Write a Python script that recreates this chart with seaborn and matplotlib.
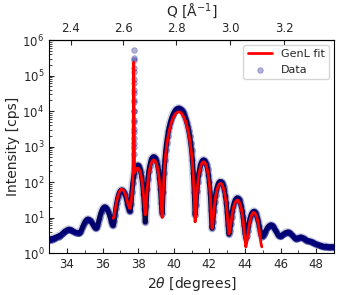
import numpy as np
import pandas as pd
import matplotlib
matplotlib.use('Agg')
import matplotlib.pyplot as plt
import seaborn as sns
from matplotlib.ticker import MultipleLocator, LogLocator, NullFormatter

# measured intensity (cps), scan 33.00 -> 49.00 deg, step 0.05
data_cps = [
    2.4, 2.3, 2.5, 2.4, 2.6, 2.5, 2.7, 2.6, 2.8, 2.9, 3.0, 2.9, 3.1, 3.3, 3.4, 3.6, 3.8, 4.0, 4.2, 4.3,
    4.5, 4.6, 4.7, 4.6, 4.5, 4.5, 4.3, 4.1, 4.0, 3.9, 3.8, 3.8, 3.7, 3.7, 3.7, 3.9, 4.3, 5.0, 5.7, 6.6,
    7.4, 8.1, 8.6, 8.9, 9.0, 8.8, 8.4, 7.9, 7.2, 6.5, 5.8, 5.4, 5.1, 5.0, 5.4, 6.6, 8.4, 10.7, 13.1, 15.5,
    17.5, 19.0, 19.9, 19.9, 19.2, 17.8, 15.8, 13.6, 11.3, 9.1, 7.4, 6.3, 6.0, 7.8, 12.2, 18.6, 26.6, 35.2, 43.5, 50.8,
    56.3, 59.5, 59.9, 57.7, 53.2, 46.9, 39.4, 31.8, 24.8, 19.3, 15.8, 15.0, 24, 52, 94, 145, 197, 244, 279, 298,
    297, 278, 241, 194, 141, 89, 46, 18, 7.5, 21.6, 62, 124, 201, 285, 367, 437, 489, 517, 517, 490,
    439, 369, 288, 204, 127, 66, 26.5, 13, 52, 183, 425, 793, 1300, 1940, 2720, 3610, 4600, 5680, 6780, 7870,
    8920, 9860, 10700, 11300, 11800, 12000, 12000, 11800, 11300, 10700, 9860, 8920, 7870, 6780, 5680, 4600, 3610, 2720, 1940, 1300,
    793, 425, 183, 52, 12, 22.8, 54.7, 104, 166, 233, 298, 354, 396, 417, 417, 395, 353, 296, 230, 162,
    99, 49, 16.6, 5, 7.6, 15.4, 27.5, 42.7, 59.2, 75.2, 88.9, 99, 104, 104, 98.8, 88.5, 74.6, 58.4, 41.8, 26.5,
    14.2, 6.2, 3.4, 4.25, 6.8, 10.7, 15.7, 21.0, 26.3, 30.7, 34.1, 35.8, 35.7, 34.0, 30.6, 26.0, 20.7, 15.3, 10.3, 6.2,
    3.6, 2.7, 3.1, 4.15, 5.8, 7.8, 9.9, 11.9, 13.6, 14.6, 15.0, 14.6, 13.6, 12.0, 10.0, 7.9, 5.9, 4.3, 3.3, 2.9,
    3.0, 3.2, 3.6, 4.0, 4.5, 5.0, 5.5, 5.8, 6.1, 6.2, 6.1, 5.9, 5.6, 5.1, 4.6, 4.1, 3.7, 3.3, 3.1, 3.0,
    3.0, 3.1, 3.2, 3.4, 3.5, 3.7, 3.8, 3.85, 3.9, 3.85, 3.75, 3.6, 3.4, 3.2, 3.0, 2.8, 2.6, 2.5, 2.55, 2.6,
    2.7, 2.75, 2.8, 2.8, 2.75, 2.7, 2.6, 2.5, 2.4, 2.3, 2.25, 2.2, 2.2, 2.15, 2.1, 2.1, 2.0, 1.95, 1.9, 1.85,
    1.8, 1.75, 1.7, 1.7, 1.65, 1.6, 1.6, 1.55, 1.55, 1.5, 1.5, 1.55, 1.5, 1.45, 1.5, 1.5, 1.45, 1.5, 1.5, 1.45,
    1.5,
]
data_tt = np.linspace(33.0, 49.0, len(data_cps))

# substrate peak, fine points
sub_tt = [37.740, 37.742, 37.744, 37.746, 37.748, 37.750, 37.752, 37.754, 37.756, 37.758, 37.760,
          37.762, 37.764, 37.766, 37.768, 37.770, 37.772, 37.774, 37.776, 37.778, 37.780]
sub_cps = [1000, 1800, 3200, 5600, 1.0e4, 1.8e4, 3.2e4, 6.3e4, 1.26e5, 2.8e5, 5.2e5,
           3.2e5, 1.6e5, 7.9e4, 4.0e4, 2.0e4, 1.0e4, 5.0e3, 2.5e3, 1.26e3, 630]

# GenL fit, 36.60 -> 44.95 deg, step 0.05
fit_cps = [
    9.5, 11.3, 15.6, 22.0, 29.9, 38.4, 46.7, 53.9,
    59.4, 62.5, 62.9, 60.7, 56.2, 49.8, 42.4, 34.8, 27.8, 22.3, 18.9, 18.0, 25.6, 48, 82, 240000, 180, 204, 233, 248,
    248, 232, 202, 164, 120, 78, 44, 20.4, 12, 23, 54.9, 104, 166, 233, 298, 354, 395, 417, 417, 395,
    354, 297, 232, 165, 103, 53, 21, 10, 40, 144, 335, 627, 1026, 1538, 2150, 2860, 3645, 4500, 5360, 6230,
    7060, 7800, 8470, 8960, 9320, 9490, 9490, 9320, 8960, 8470, 7800, 7060, 6230, 5360, 4500, 3645, 2860, 2150, 1538, 1026,
    627, 335, 144, 39, 7.6, 17.5, 46.2, 90.6, 146, 207, 265, 316, 353, 372, 372, 353, 315, 264, 205, 145,
    88.8, 44.2, 15.1, 5, 7.3, 14.1, 24.6, 37.8, 52.1, 66, 78, 86.9, 91.5, 91.4, 86.6, 77.7, 65.5, 51.4, 36.9, 23.6,
    12.9, 6.0, 3.5, 4.2, 6.3, 9.6, 13.8, 18.4, 22.9, 26.7, 29.5, 30.9, 30.8, 29.1, 26.1, 22.1, 17.4, 12.7, 8.3, 4.7,
    2.4, 1.5, 1.9, 3.0, 4.6, 6.7, 8.8, 10.9, 12.5, 13.6, 14.0, 13.6, 12.5, 10.9, 8.8, 6.7, 4.6, 3.0, 1.9, 1.5,
]
fit_tt = np.linspace(36.60, 44.95, len(fit_cps))

q_ticks = [2.4, 2.6, 2.8, 3.0, 3.2]
wavelength = 1.5406  # Cu K-alpha1

df_scan = pd.DataFrame({'tt': data_tt, 'cps': data_cps})
df = pd.DataFrame({'tt': np.concatenate([data_tt, sub_tt]),
                   'cps': np.concatenate([data_cps, sub_cps])}).sort_values('tt')
df_fit = pd.DataFrame({'tt': fit_tt, 'cps': fit_cps})

sns.set_theme(style='ticks', rc={
    'xtick.direction': 'in', 'ytick.direction': 'in',
    'axes.linewidth': 0.8, 'axes.edgecolor': 'black',
})
plt.rcParams['font.family'] = ['DejaVu Sans']

fig, ax = plt.subplots(figsize=(3.39, 2.95), dpi=100)
fig.subplots_adjust(left=0.145, right=0.985, bottom=0.142, top=0.864)

# dense data band (halo + dark core) along the scan, substrate spike only as points
ax.plot(df_scan['tt'], df_scan['cps'], color='#8a8ab8', lw=6.0, alpha=0.4, zorder=1, solid_capstyle='round')
ax.plot(df_scan['tt'], df_scan['cps'], color='#000038', lw=3.6, alpha=0.95, zorder=2, solid_capstyle='round')
sns.scatterplot(data=df, x='tt', y='cps', ax=ax, color='navy', alpha=0.3, s=16,
                edgecolor='navy', linewidth=0.6, label='Data', zorder=3)
sns.lineplot(data=df_fit, x='tt', y='cps', ax=ax, color='red', lw=2, label='GenL fit',
             sort=False, estimator=None, zorder=4)

ax.set_yscale('log')
ax.set_xlim(33, 49)
ax.set_ylim(1, 1e6)
ax.xaxis.set_major_locator(MultipleLocator(2))
ax.xaxis.set_minor_locator(MultipleLocator(1))
ax.yaxis.set_major_locator(LogLocator(base=10, numticks=10))
ax.yaxis.set_minor_locator(LogLocator(base=10, subs=np.arange(2, 10), numticks=20))
ax.yaxis.set_minor_formatter(NullFormatter())
ax.tick_params(axis='both', which='major', labelsize=8.5, length=3.5, width=0.8, top=False, right=False)
ax.tick_params(axis='both', which='minor', length=2, width=0.6, top=False, right=False)
ax.set_xlabel(r'2$\theta$ [degrees]', fontsize=10, labelpad=3)
ax.set_ylabel('Intensity [cps]', fontsize=10, labelpad=2)


def tt2q(tt):
    return 4 * np.pi / wavelength * np.sin(np.radians(np.asarray(tt, dtype=float) / 2))


def q2tt(q):
    return 2 * np.degrees(np.arcsin(np.clip(np.asarray(q, dtype=float) * wavelength / (4 * np.pi), -1, 1)))


secax = ax.secondary_xaxis('top', functions=(tt2q, q2tt))
secax.set_xticks(q_ticks)
secax.tick_params(direction='in', labelsize=8.5, length=3.5, width=0.8)
secax.minorticks_off()
secax.set_xlabel(r'Q [$\mathrm{\AA}^{-1}$]', fontsize=10, labelpad=4)

handles, labels = ax.get_legend_handles_labels()
order = [labels.index('GenL fit'), labels.index('Data')]
leg = ax.legend([handles[i] for i in order], [labels[i] for i in order], loc='upper right',
                fontsize=8, frameon=True, borderaxespad=0.4, handlelength=2.2)
leg.get_frame().set_edgecolor('#cccccc')

fig.savefig('out.png', dpi=100)
